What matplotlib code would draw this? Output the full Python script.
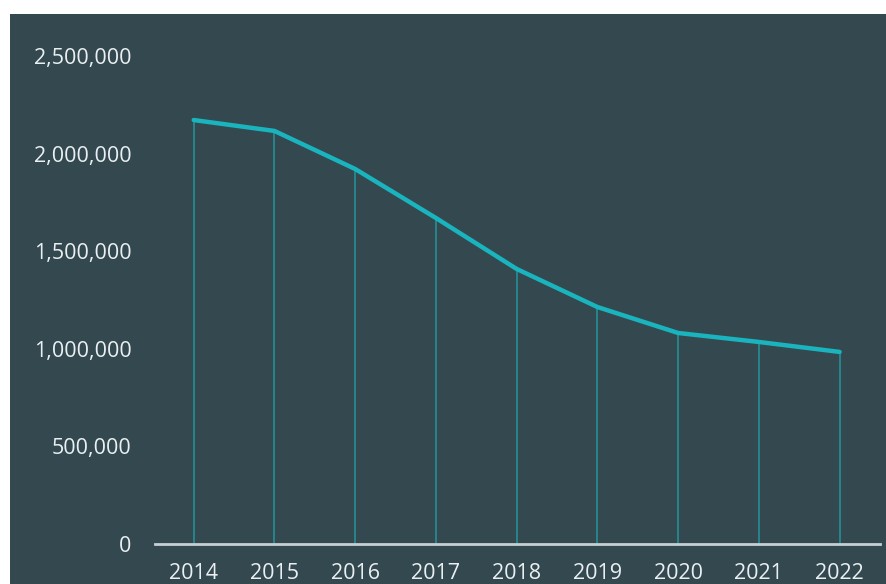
import matplotlib
matplotlib.use('Agg')
import numpy as np
import matplotlib.pyplot as plt
from matplotlib.patches import Rectangle
from matplotlib.ticker import FuncFormatter

# data
years = ['2014', '2015', '2016', '2017', '2018', '2019', '2020', '2021', '2022']
values = [2172000, 2116000, 1921000, 1670000, 1409000, 1214000, 1081000, 1035000, 984000]
yticks = [0, 500000, 1000000, 1500000, 2000000, 2500000]

bg = '#34484f'
linecol = '#1ab4be'
dropcol = '#268a91'
txtcol = '#eaf0f2'

plt.rcParams['font.family'] = ['Open Sans', 'DejaVu Sans']

fig = plt.figure(figsize=(8.86, 5.84), dpi=100)
fig.patch.set_facecolor('white')
# dark panel, white strip on top and left
panel = Rectangle((10 / 886, 0), 1, 1 - 14 / 584, transform=fig.transFigure,
                  facecolor=bg, edgecolor='none', zorder=-10)
fig.add_artist(panel)

ax = fig.add_axes([155 / 886, 40 / 584, 725 / 886, 488 / 584])
ax.set_zorder(5)
ax.set_facecolor('none')
x = np.arange(len(years))

# drop lines from each point to the axis
ax.vlines(x, 0, values, color=dropcol, lw=1.3, zorder=2)
ax.plot(x, values, color=linecol, lw=3.2, solid_capstyle='round', zorder=3)

ax.set_xlim(-0.48, len(years) - 0.5)
ax.set_ylim(0, 2500000)
ax.set_yticks(yticks)
ax.yaxis.set_major_formatter(FuncFormatter(lambda v, p: '{:,.0f}'.format(v)))
ax.set_xticks(x)
ax.set_xticklabels(years)

for s in ['top', 'right', 'left']:
    ax.spines[s].set_visible(False)
ax.spines['bottom'].set_color('#c5d0d4')
ax.spines['bottom'].set_linewidth(2)
ax.spines['bottom'].set_zorder(4)

ax.tick_params(axis='both', length=0, labelsize=15.5, labelcolor=txtcol)
ax.tick_params(axis='y', pad=17)
ax.tick_params(axis='x', pad=14)

plt.savefig('out.png', dpi=100, facecolor=fig.get_facecolor())
